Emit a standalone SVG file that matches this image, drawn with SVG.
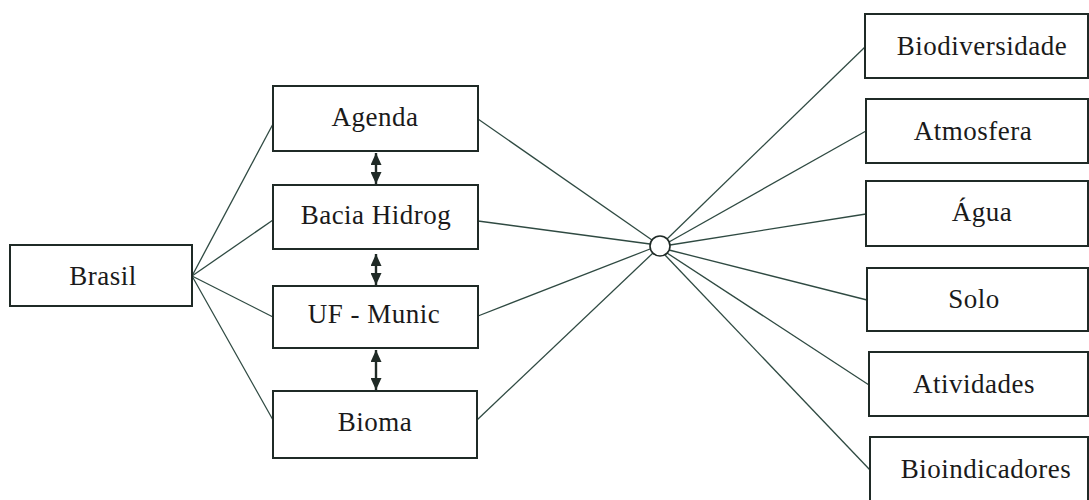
<svg xmlns="http://www.w3.org/2000/svg" width="1089" height="500" viewBox="0 0 1089 500">
  <defs>
    <style>
      .box { fill: #ffffff; stroke: #1f2a26; stroke-width: 2; }
      .lbl { font-family: "Liberation Serif", "DejaVu Serif", "Times New Roman", serif; font-size: 27px; fill: #1a1a1a; text-anchor: middle; letter-spacing: 0.5px; }
      .link { stroke: #2f4a42; stroke-width: 1.3; fill: none; }
      .both { stroke: #1f2a26; stroke-width: 2.4; fill: none; marker-start: url(#tip); marker-end: url(#tip); }
    </style>
    <marker id="tip" viewBox="0 0 12 11" refX="12" refY="5.5" markerUnits="userSpaceOnUse" markerWidth="12" markerHeight="11" orient="auto-start-reverse">
      <path d="M0,0 L12,5.5 L0,11 z" fill="#1f2a26"/>
    </marker>
  </defs>
  <rect width="1089" height="500" fill="#ffffff"/>

  <g id="connectors">
    <!-- Brasil fan-out -->
    <line class="link" x1="192" y1="276" x2="273" y2="124"/>
    <line class="link" x1="192" y1="276" x2="273" y2="220"/>
    <line class="link" x1="192" y1="276" x2="273" y2="317"/>
    <line class="link" x1="192" y1="276" x2="273" y2="420"/>
    <!-- levels into the hub -->
    <line class="link" x1="478" y1="119" x2="652" y2="240"/>
    <line class="link" x1="478" y1="221" x2="650" y2="244"/>
    <line class="link" x1="478" y1="316" x2="650" y2="249"/>
    <line class="link" x1="477" y1="420" x2="653" y2="253"/>
    <!-- hub to themes -->
    <line class="link" x1="667" y1="239" x2="865" y2="47"/>
    <line class="link" x1="669" y1="242" x2="866" y2="131"/>
    <line class="link" x1="670" y1="245" x2="866" y2="214"/>
    <line class="link" x1="669" y1="250" x2="867" y2="300"/>
    <line class="link" x1="667" y1="253" x2="869" y2="385"/>
    <line class="link" x1="665" y1="255" x2="870" y2="470"/>
    <!-- two-way links between levels -->
    <line class="both" x1="376" y1="153" x2="376" y2="184"/>
    <line class="both" x1="376" y1="254" x2="376" y2="285"/>
    <line class="both" x1="376" y1="350" x2="376" y2="390"/>
  </g>

  <g id="hub">
    <circle cx="660" cy="246" r="10" fill="#ffffff" stroke="#1f2a26" stroke-width="1.6"/>
  </g>

  <g id="brasil">
    <rect class="box" x="10" y="245" width="182" height="61"/>
    <text class="lbl" x="103" y="285">Brasil</text>
  </g>
  <g id="agenda">
    <rect class="box" x="273" y="86" width="205" height="65"/>
    <text class="lbl" x="375" y="126">Agenda</text>
  </g>
  <g id="bacia">
    <rect class="box" x="273" y="185" width="205" height="64"/>
    <text class="lbl" x="376" y="224">Bacia Hidrog</text>
  </g>
  <g id="uf-munic">
    <rect class="box" x="273" y="286" width="205" height="62"/>
    <text class="lbl" x="374" y="323">UF - Munic</text>
  </g>
  <g id="bioma">
    <rect class="box" x="273" y="391" width="204" height="67"/>
    <text class="lbl" x="375" y="431">Bioma</text>
  </g>

  <g id="biodiversidade">
    <rect class="box" x="865" y="14" width="223" height="64"/>
    <text class="lbl" x="982" y="55">Biodiversidade</text>
  </g>
  <g id="atmosfera">
    <rect class="box" x="866" y="99" width="222" height="64"/>
    <text class="lbl" x="973" y="140">Atmosfera</text>
  </g>
  <g id="agua">
    <rect class="box" x="866" y="181" width="222" height="65"/>
    <text class="lbl" x="982" y="221">Água</text>
  </g>
  <g id="solo">
    <rect class="box" x="867" y="268" width="221" height="63"/>
    <text class="lbl" x="974" y="308">Solo</text>
  </g>
  <g id="atividades">
    <rect class="box" x="869" y="352" width="219" height="64"/>
    <text class="lbl" x="974" y="393">Atividades</text>
  </g>
  <g id="bioindicadores">
    <rect class="box" x="870" y="437" width="218" height="66"/>
    <text class="lbl" x="986" y="478">Bioindicadores</text>
  </g>
</svg>
